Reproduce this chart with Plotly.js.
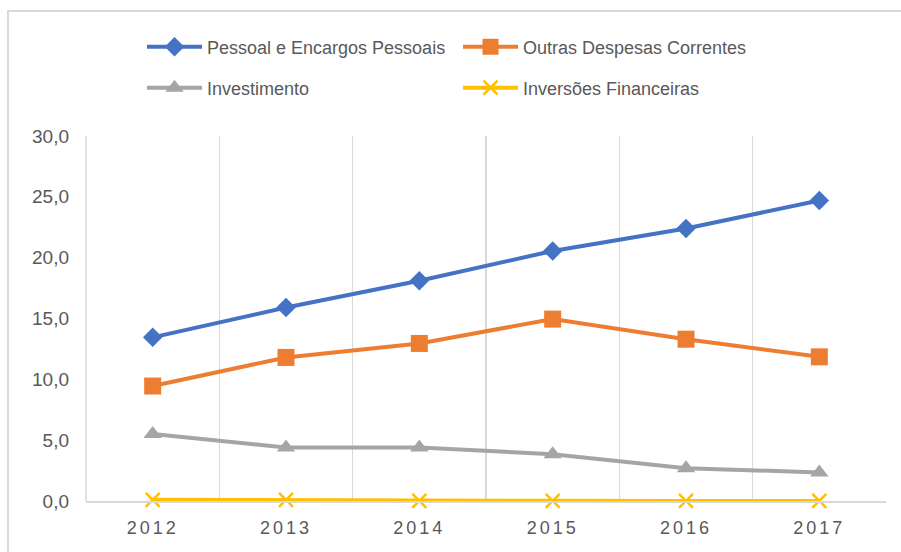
<!DOCTYPE html>
<html>
<head>
<meta charset="utf-8">
<script src="https://cdn.plot.ly/plotly-3.0.1.min.js"></script>
<style>
  html, body { margin: 0; padding: 0; background: #fff; }
  #wrap { position: relative; width: 901px; height: 552px; overflow: hidden; }
  #chart { width: 901px; height: 552px; }
  #frame { position: absolute; left: 7px; top: 10px; width: 1000px; height: 1000px;
           border: 2px solid #d9d9d9; box-sizing: border-box; pointer-events: none; }
  .xtick text { letter-spacing: 3px; }
</style>
</head>
<body>
<div id="wrap">
  <div id="chart"></div>
  <div id="frame"></div>
</div>
<script>
const years = ['2012', '2013', '2014', '2015', '2016', '2017'];
const pessoal = [13.45, 15.9, 18.1, 20.55, 22.4, 24.7];
const outras = [9.45, 11.8, 12.95, 14.95, 13.3, 11.85];
const investimento = [5.5, 4.4, 4.4, 3.85, 2.7, 2.35];
const inversoes = [0.1, 0.1, 0.02, 0.02, 0.01, 0.01];
const yTicks = [0, 5, 10, 15, 20, 25, 30];

const FONT = '"Liberation Sans", Arial, sans-serif';

function tr(name, y, color, symbol, size, legend) {
  return {
    type: 'scatter', mode: 'lines+markers', name: name, x: years, y: y,
    line: {color: color, width: 4},
    marker: {color: color, symbol: symbol, size: size,
             line: {color: color, width: symbol === 'x-thin' ? 2.5 : 0}},
    cliponaxis: false, legend: legend
  };
}

const data = [
  tr('Pessoal e Encargos Pessoais', pessoal, '#4472C4', 'diamond', 15, 'legend'),
  tr('Outras Despesas Correntes', outras, '#ED7D31', 'square', 17, 'legend'),
  tr('Investimento', investimento, '#A5A5A5', 'triangle-up', 16, 'legend2'),
  tr('Inversões Financeiras', inversoes, '#FFC000', 'x-thin', 14, 'legend2')
];

const legendCommon = {
  orientation: 'h', xanchor: 'left', yanchor: 'middle',
  entrywidth: 246, entrywidthmode: 'pixels', itemwidth: 55,
  font: {family: FONT, size: 18, color: '#595959'},
  bgcolor: 'rgba(0,0,0,0)', traceorder: 'normal'
};

const layout = {
  width: 901, height: 552,
  margin: {l: 86, r: 15, t: 136, b: 51},
  paper_bgcolor: '#ffffff', plot_bgcolor: '#ffffff',
  separators: ',.',
  font: {family: FONT, color: '#595959', size: 18},
  showlegend: true,
  legend: Object.assign({}, legendCommon, {x: 0.07, y: 1.244}),
  legend2: Object.assign({}, legendCommon, {x: 0.07, y: 1.1315}),
  shapes: [{
    type: 'line', xref: 'paper', yref: 'paper', x0: 0, x1: 0, y0: 0, y1: 1,
    line: {color: '#d9d9d9', width: 1.5}, layer: 'below'
  }],
  xaxis: {
    type: 'category', range: [-0.5, 5.5], tickson: 'boundaries', showgrid: true,
    gridcolor: '#d9d9d9', gridwidth: 1.5,
    showline: true, linecolor: '#d9d9d9', linewidth: 1.5,
    ticks: '', ticklabelstandoff: 10,
    tickfont: {family: FONT, size: 18, color: '#595959'},
    zeroline: false, fixedrange: true
  },
  yaxis: {
    range: [0, 30], tickvals: yTicks, tickformat: '.1f',
    showgrid: false, zeroline: false, showline: false, ticks: '',
    ticklabelstandoff: 16,
    tickfont: {family: FONT, size: 19, color: '#595959'},
    fixedrange: true
  }
};

Plotly.newPlot('chart', data, layout, {displayModeBar: false, staticPlot: true});
</script>
</body>
</html>
